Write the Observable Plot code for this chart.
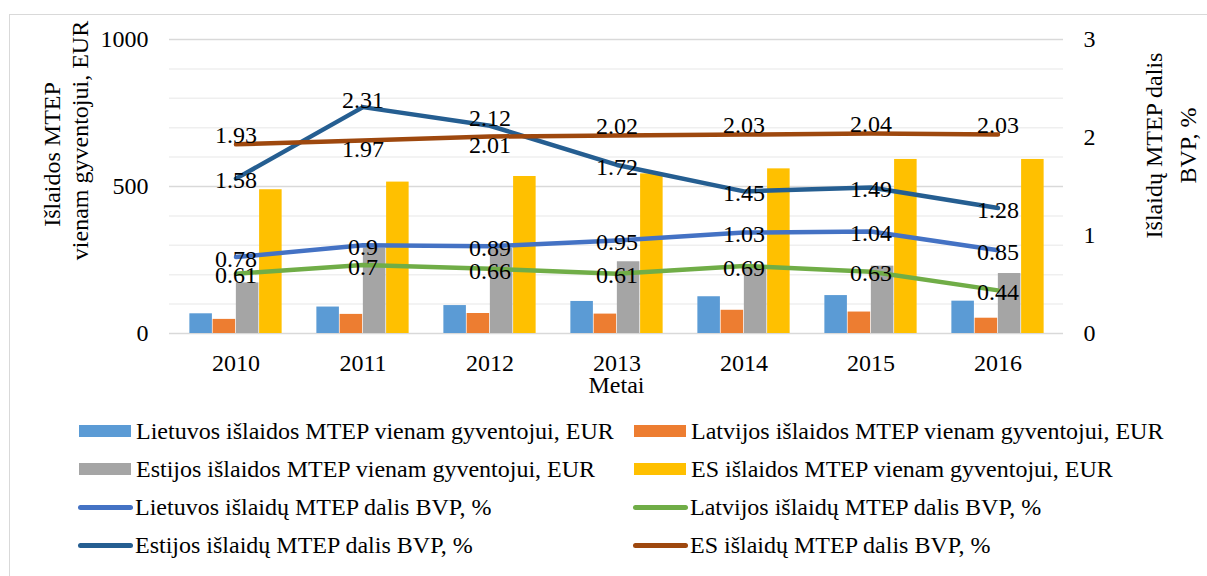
<!DOCTYPE html>
<html>
<head>
<meta charset="utf-8">
<script src="https://cdn.jsdelivr.net/npm/d3@7"></script>
<script src="https://cdn.jsdelivr.net/npm/@observablehq/plot@0.6"></script>
<style>
  body { margin: 0; background: #fff; }
  #wrap { position: relative; width: 1207px; height: 576px; overflow: hidden; font-family: "Liberation Serif", "Times New Roman", serif; }
  #frame { position: absolute; left: 9px; top: 14px; width: 1210px; height: 580px; border: 1px solid #d9d9d9; box-sizing: border-box; }
  #chart { position: absolute; left: 0; top: 0; }
  .leg { position: absolute; height: 26px; line-height: 26px; font-size: 24px; white-space: nowrap; display: flex; align-items: center; color: #000; }
  .sw { display: inline-block; margin-right: 5px; }
</style>
</head>
<body>
<div id="wrap"><div id="frame"></div><div id="chart"></div><div id="legend"></div></div>
<script>
// ---- data ----
const years = ["2010", "2011", "2012", "2013", "2014", "2015", "2016"];
// EUR per inhabitant (left axis)
const ltEur = [67, 90, 95, 109, 125, 129, 110];
const lvEur = [48, 65, 68, 66, 79, 73, 52];
const eeEur = [172, 290, 289, 244, 220, 229, 204];
const esEur = [489, 515, 534, 543, 560, 592, 592];
// share of GDP, % (right axis)
const ltPct = [0.78, 0.9, 0.89, 0.95, 1.03, 1.04, 0.85];
const lvPct = [0.61, 0.7, 0.66, 0.61, 0.69, 0.63, 0.44];
const eePct = [1.58, 2.31, 2.12, 1.72, 1.45, 1.49, 1.28];
const esPct = [1.93, 1.97, 2.01, 2.02, 2.03, 2.04, 2.03];
// axes
const leftTicks = [0, 500, 1000];
const rightTicks = [0, 1, 2, 3];
const gridStep = 100;
const leftMax = 1000, rightMax = 3;

const barNames = [
  "Lietuvos išlaidos MTEP vienam gyventojui, EUR",
  "Latvijos išlaidos MTEP vienam gyventojui, EUR",
  "Estijos išlaidos MTEP vienam gyventojui, EUR",
  "ES išlaidos MTEP vienam gyventojui, EUR"
];
const lineNames = [
  "Lietuvos išlaidų MTEP dalis BVP, %",
  "Latvijos išlaidų MTEP dalis BVP, %",
  "Estijos išlaidų MTEP dalis BVP, %",
  "ES išlaidų MTEP dalis BVP, %"
];
const barColors = ["#5B9BD5", "#ED7D31", "#A5A5A5", "#FFC000"];
const lineColors = ["#4472C4", "#70AD47", "#255E91", "#9E480E"];

// ---- layout ----
const W = 1207, H = 400, mL = 169, mR = 144, mT = 39, mB = 67;
const FONT = "Liberation Serif";
const FS = 24;
const k = leftMax / rightMax;

const barVals = [ltEur, lvEur, eeEur, esEur];
const lineVals = [ltPct, lvPct, eePct, esPct];

const bw = (W - mL - mR) / years.length;
const groupW = bw * 0.728;
const barW = groupW / 4;
const off = (bw - groupW) / 2;

const gridAll = d3.range(0, leftMax + 1, gridStep);
const gridMinor = gridAll.filter(v => !leftTicks.includes(v));

const eeOverEs = years.map((_, j) => eePct[j] > esPct[j]);
const labelDy = [
  years.map(() => 2),
  years.map(() => 2),
  years.map((_, j) => eeOverEs[j] ? -7 : 2),
  years.map((_, j) => eeOverEs[j] ? 9 : -9)
];

const marks = [];
marks.push(Plot.ruleY(gridMinor, {stroke: "#efefef", strokeWidth: 1.5}));
marks.push(Plot.ruleY(leftTicks, {stroke: "#d9d9d9", strokeWidth: 1.5}));

barVals.forEach((vals, i) => {
  const rows = years.map((yr, j) => ({year: yr, v: vals[j]}));
  marks.push(Plot.barY(rows, {
    x: "year", y: "v", fill: barColors[i],
    insetLeft: off + barW * i,
    insetRight: bw - off - barW * (i + 1)
  }));
});

lineVals.forEach((vals, i) => {
  const rows = years.map((yr, j) => ({year: yr, p: vals[j]}));
  marks.push(Plot.line(rows, {
    x: "year", y: d => d.p * k, stroke: lineColors[i],
    strokeWidth: 4.5, strokeLinecap: "round", strokeLinejoin: "round"
  }));
});

lineVals.forEach((vals, i) => {
  const rows = years.map((yr, j) => ({year: yr, p: vals[j], dy: labelDy[i][j]}));
  rows.forEach(r => {
    marks.push(Plot.text([r], {
      x: "year", y: d => d.p * k, text: d => String(d.p),
      dy: r.dy, fontSize: FS, fontFamily: FONT, fill: "#000"
    }));
  });
});

marks.push(Plot.axisX({tickSize: 0, tickPadding: 20, label: null, fontSize: FS, fontFamily: FONT}));
marks.push(Plot.axisY({ticks: leftTicks, tickSize: 0, tickPadding: 21, label: null, tickFormat: d => String(d), fontSize: FS, fontFamily: FONT}));
marks.push(Plot.axisY({anchor: "right", ticks: rightTicks.map(t => t * k), tickSize: 0, tickPadding: 20, label: null, tickFormat: d => String(Math.round(d / k)), fontSize: FS, fontFamily: FONT}));

// axis titles
const titleOpts = {text: d => d, rotate: -90, textAnchor: "middle", lineAnchor: "middle", fontSize: FS, fontFamily: FONT, fill: "#000"};
marks.push(Plot.text(["Metai"], {text: d => d, frameAnchor: "bottom", textAnchor: "middle", lineAnchor: "middle", dy: 52, fontSize: FS, fontFamily: FONT}));
marks.push(Plot.text(["Išlaidos MTEP"], {...titleOpts, frameAnchor: "left", dx: -117, dy: -32}));
marks.push(Plot.text(["vienam gyventojui, EUR"], {...titleOpts, frameAnchor: "left", dx: -89, dy: -46}));
marks.push(Plot.text(["Išlaidų MTEP dalis"], {...titleOpts, frameAnchor: "right", dx: 91, dy: -41}));
marks.push(Plot.text(["BVP, %"], {...titleOpts, frameAnchor: "right", dx: 125, dy: -41}));

const chart = Plot.plot({
  width: W, height: H,
  marginLeft: mL, marginRight: mR, marginTop: mT, marginBottom: mB,
  style: {fontFamily: FONT, fontSize: FS + "px", background: "transparent", overflow: "visible"},
  x: {type: "band", domain: years, padding: 0},
  y: {domain: [0, leftMax]},
  marks
});
document.getElementById("chart").appendChild(chart);

// ---- legend (HTML, below the SVG) ----
const legend = document.getElementById("legend");
const rowsY = [431, 469, 507, 545];
const colSwatchX = [78, 633];
const items = [];
barNames.forEach((n, i) => items.push({name: n, color: barColors[i], type: "bar", row: Math.floor(i / 2), col: i % 2}));
lineNames.forEach((n, i) => items.push({name: n, color: lineColors[i], type: "line", row: 2 + Math.floor(i / 2), col: i % 2}));
items.forEach(it => {
  const d = document.createElement("div");
  d.className = "leg";
  d.style.left = colSwatchX[it.col] + "px";
  d.style.top = (rowsY[it.row] - 13) + "px";
  const sw = document.createElement("span");
  sw.className = "sw";
  if (it.type === "bar") {
    sw.style.width = "52px"; sw.style.height = "12px"; sw.style.background = it.color;
    sw.style.marginLeft = "1px"; sw.style.marginRight = "5px";
  } else {
    sw.style.width = "55px"; sw.style.height = "5px"; sw.style.background = it.color;
    sw.style.borderRadius = "3px"; sw.style.marginRight = "2px";
  }
  const t = document.createElement("span");
  t.textContent = it.name;
  d.appendChild(sw); d.appendChild(t);
  legend.appendChild(d);
});
</script>
</body>
</html>
